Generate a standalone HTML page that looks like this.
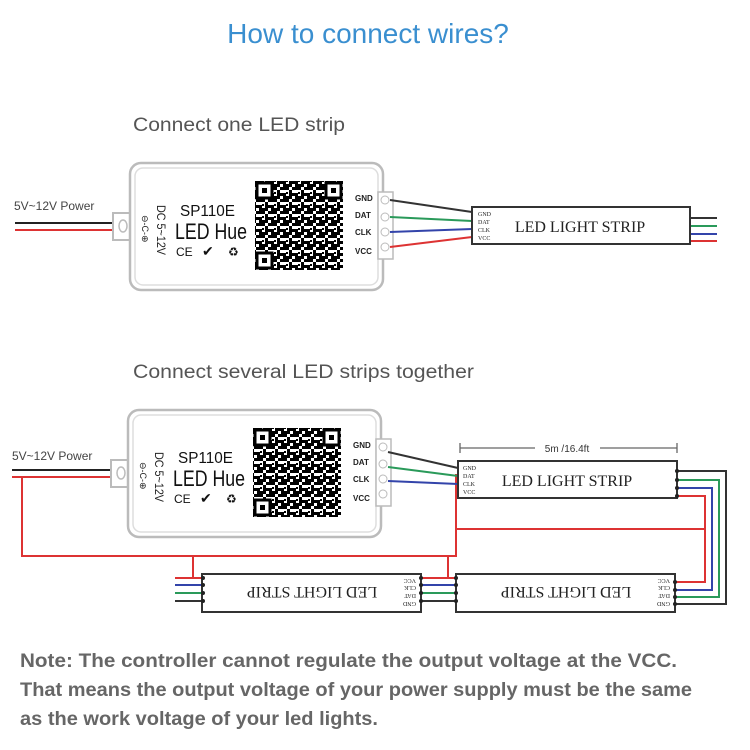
<!DOCTYPE html>
<html><head><meta charset="utf-8"><style>
html,body{margin:0;padding:0;background:#fff;}
svg{display:block;}
</style></head><body>
<svg width="750" height="750" viewBox="0 0 750 750" xmlns="http://www.w3.org/2000/svg" font-family="Liberation Sans, sans-serif">
<defs>
<pattern id="qr" width="12" height="12" patternUnits="userSpaceOnUse">
<rect x="0" y="0" width="3" height="3" fill="#000"/><rect x="3" y="3" width="3" height="6" fill="#000"/>
<rect x="6" y="0" width="6" height="3" fill="#000"/><rect x="9" y="6" width="3" height="3" fill="#000"/>
<rect x="0" y="9" width="6" height="3" fill="#000"/><rect x="6" y="6" width="3" height="3" fill="#000"/>
<rect x="9" y="9" width="3" height="3" fill="#000"/><rect x="0" y="5" width="2" height="2" fill="#000"/>
</pattern>
<g id="ctrl">
<rect x="-17" y="50" width="19" height="27" fill="#fff" stroke="#bbb" stroke-width="2"/>
<ellipse cx="-7" cy="63" rx="4" ry="6" fill="#fff" stroke="#bbb" stroke-width="1.5"/>
<rect x="0" y="0" width="253" height="127" rx="11" fill="#fff" stroke="#bbb" stroke-width="2.5"/>
<rect x="5" y="5" width="243" height="117" rx="8" fill="none" stroke="#ddd" stroke-width="1.5"/>
<rect x="248" y="29" width="15" height="67" fill="#fff" stroke="#bbb" stroke-width="1.5"/>
<g fill="none" stroke="#bbb" stroke-width="1"><circle cx="255" cy="37" r="4"/><circle cx="255" cy="54" r="4"/><circle cx="255" cy="69" r="4"/><circle cx="255" cy="84" r="4"/></g>
<text transform="translate(27,42) rotate(90)" font-size="12" fill="#222" textLength="50" lengthAdjust="spacingAndGlyphs">DC 5~12V</text>
<text transform="translate(12,52) rotate(90)" font-size="9" fill="#222">⊖-C-⊕</text>
<text x="50" y="53" font-size="16" fill="#111" textLength="55" lengthAdjust="spacingAndGlyphs">SP110E</text>
<text x="45" y="76" font-size="22" fill="#111" textLength="72" lengthAdjust="spacingAndGlyphs">LED Hue</text>
<text x="46" y="93" font-size="12" fill="#111">CE</text>
<text x="72" y="93" font-size="14" fill="#111">✔</text>
<text x="98" y="93" font-size="12" fill="#111">♻</text>
<rect x="125" y="18" width="88" height="89" fill="url(#qr)"/>
<g fill="#fff" stroke="#000" stroke-width="3"><rect x="127" y="20" width="15" height="15"/><rect x="196" y="20" width="15" height="15"/><rect x="127" y="90" width="15" height="15"/></g>
<g fill="#000"><rect x="132" y="25" width="5" height="5"/><rect x="201" y="25" width="5" height="5"/><rect x="132" y="95" width="5" height="5"/></g>
<g font-size="8" fill="#222" font-weight="bold"><text x="225" y="38">GND</text><text x="225" y="55">DAT</text><text x="225" y="72">CLK</text><text x="225" y="91">VCC</text></g>
</g>
</defs>

<text x="368" y="43" text-anchor="middle" font-size="28" fill="#3a8fd0">How to connect wires?</text>
<text x="133" y="131" font-size="19" fill="#555" textLength="212" lengthAdjust="spacingAndGlyphs">Connect one LED strip</text>
<text x="133" y="378" font-size="19" fill="#555" textLength="341" lengthAdjust="spacingAndGlyphs">Connect several LED strips together</text>

<!-- top -->
<text x="14" y="210" font-size="12" fill="#444">5V~12V Power</text>
<line x1="15" y1="223" x2="122" y2="223" stroke="#222" stroke-width="2"/>
<line x1="15" y1="230" x2="122" y2="230" stroke="#d33" stroke-width="2"/>
<use href="#ctrl" transform="translate(130,163)"/>
<g stroke-width="2">
<line x1="390" y1="200" x2="472" y2="212" stroke="#333"/>
<line x1="390" y1="217" x2="472" y2="221" stroke="#2a9a5a"/>
<line x1="390" y1="232" x2="472" y2="229" stroke="#3344aa"/>
<line x1="390" y1="247" x2="472" y2="237" stroke="#d33"/>
<line x1="690" y1="218" x2="717" y2="218" stroke="#333"/>
<line x1="690" y1="226" x2="717" y2="226" stroke="#2a9a5a"/>
<line x1="690" y1="234" x2="717" y2="234" stroke="#3344aa"/>
<line x1="690" y1="241" x2="717" y2="241" stroke="#d33"/>
</g>
<rect x="472" y="207" width="218" height="37" fill="#fff" stroke="#333" stroke-width="2"/>
<g font-size="6" fill="#222" font-family="Liberation Serif, serif"><text x="478" y="216">GND</text><text x="478" y="224">DAT</text><text x="478" y="232">CLK</text><text x="478" y="240">VCC</text></g>
<text x="580" y="232" text-anchor="middle" font-size="16" font-family="Liberation Serif, serif" fill="#222">LED LIGHT STRIP</text>

<!-- bottom -->
<text x="12" y="460" font-size="12" fill="#444">5V~12V Power</text>
<line x1="12" y1="470" x2="120" y2="470" stroke="#222" stroke-width="2"/>
<line x1="12" y1="477" x2="120" y2="477" stroke="#d33" stroke-width="2"/>
<use href="#ctrl" transform="translate(128,410)"/>
<g fill="none" stroke-width="2">
<polyline points="22,477 22,556 456,556 456,474" stroke="#d33"/>
<line x1="456" y1="529" x2="705" y2="529" stroke="#d33"/>
<line x1="193" y1="556" x2="193" y2="578" stroke="#d33"/>
<line x1="448" y1="556" x2="448" y2="578" stroke="#d33"/>
<line x1="388" y1="452" x2="458" y2="468" stroke="#333"/>
<line x1="388" y1="467" x2="458" y2="476" stroke="#2a9a5a"/>
<line x1="388" y1="481" x2="458" y2="484" stroke="#3344aa"/>
<polyline points="677,471 726,471 726,604 675,604" stroke="#333"/>
<polyline points="677,480 719,480 719,597 675,597" stroke="#2a9a5a"/>
<polyline points="677,488 712,488 712,590 675,590" stroke="#3344aa"/>
<polyline points="677,496 705,496 705,582 675,582" stroke="#d33"/>
<line x1="421" y1="578" x2="456" y2="578" stroke="#d33"/>
<line x1="421" y1="585" x2="456" y2="585" stroke="#3344aa"/>
<line x1="421" y1="593" x2="456" y2="593" stroke="#2a9a5a"/>
<line x1="421" y1="601" x2="456" y2="601" stroke="#333"/>
<line x1="175" y1="578" x2="203" y2="578" stroke="#d33"/>
<line x1="175" y1="585" x2="203" y2="585" stroke="#3344aa"/>
<line x1="175" y1="593" x2="203" y2="593" stroke="#2a9a5a"/>
<line x1="175" y1="601" x2="203" y2="601" stroke="#333"/>
</g>
<g stroke="#666" stroke-width="1.3"><line x1="460" y1="448" x2="535" y2="448"/><line x1="600" y1="448" x2="677" y2="448"/><line x1="460" y1="443" x2="460" y2="453"/><line x1="677" y1="443" x2="677" y2="453"/></g>
<text x="567" y="452" text-anchor="middle" font-size="10" fill="#333">5m /16.4ft</text>

<rect x="458" y="461" width="219" height="37" fill="#fff" stroke="#333" stroke-width="2"/>
<g font-size="6" fill="#222" font-family="Liberation Serif, serif"><text x="463" y="470">GND</text><text x="463" y="478">DAT</text><text x="463" y="486">CLK</text><text x="463" y="494">VCC</text></g>
<text x="567" y="486" text-anchor="middle" font-size="16" font-family="Liberation Serif, serif" fill="#222">LED LIGHT STRIP</text>

<g transform="rotate(180 565.5 593)">
<rect x="456" y="574" width="219" height="38" fill="#fff" stroke="#333" stroke-width="2"/>
<g font-size="6" fill="#222" font-family="Liberation Serif, serif"><text x="461" y="584">GND</text><text x="461" y="592">DAT</text><text x="461" y="600">CLK</text><text x="461" y="607">VCC</text></g>
<text x="565" y="599" text-anchor="middle" font-size="16" font-family="Liberation Serif, serif" fill="#222">LED LIGHT STRIP</text>
</g>
<g transform="rotate(180 311.5 593)">
<rect x="202" y="574" width="219" height="38" fill="#fff" stroke="#333" stroke-width="2"/>
<g font-size="6" fill="#222" font-family="Liberation Serif, serif"><text x="207" y="584">GND</text><text x="207" y="592">DAT</text><text x="207" y="600">CLK</text><text x="207" y="607">VCC</text></g>
<text x="311" y="599" text-anchor="middle" font-size="16" font-family="Liberation Serif, serif" fill="#222">LED LIGHT STRIP</text>
</g>
<g fill="#222">
<circle cx="677" cy="471" r="2"/><circle cx="677" cy="480" r="2"/><circle cx="677" cy="488" r="2"/><circle cx="677" cy="496" r="2"/>
<circle cx="456" cy="578" r="2"/><circle cx="456" cy="585" r="2"/><circle cx="456" cy="593" r="2"/><circle cx="456" cy="601" r="2"/>
<circle cx="421" cy="578" r="2"/><circle cx="421" cy="585" r="2"/><circle cx="421" cy="593" r="2"/><circle cx="421" cy="601" r="2"/>
<circle cx="203" cy="578" r="2"/><circle cx="203" cy="585" r="2"/><circle cx="203" cy="593" r="2"/><circle cx="203" cy="601" r="2"/>
<circle cx="675" cy="582" r="2"/><circle cx="675" cy="590" r="2"/><circle cx="675" cy="597" r="2"/><circle cx="675" cy="604" r="2"/>
</g>

<g font-size="19" fill="#666" font-weight="bold">
<text x="20" y="667" textLength="657" lengthAdjust="spacingAndGlyphs">Note:  The controller cannot regulate the output voltage at the VCC.</text>
<text x="20" y="696" textLength="672" lengthAdjust="spacingAndGlyphs">That means the output voltage of your power supply must be the same</text>
<text x="20" y="725" textLength="358" lengthAdjust="spacingAndGlyphs">as the work voltage of your led lights.</text>
</g>
</svg>
</body></html>
